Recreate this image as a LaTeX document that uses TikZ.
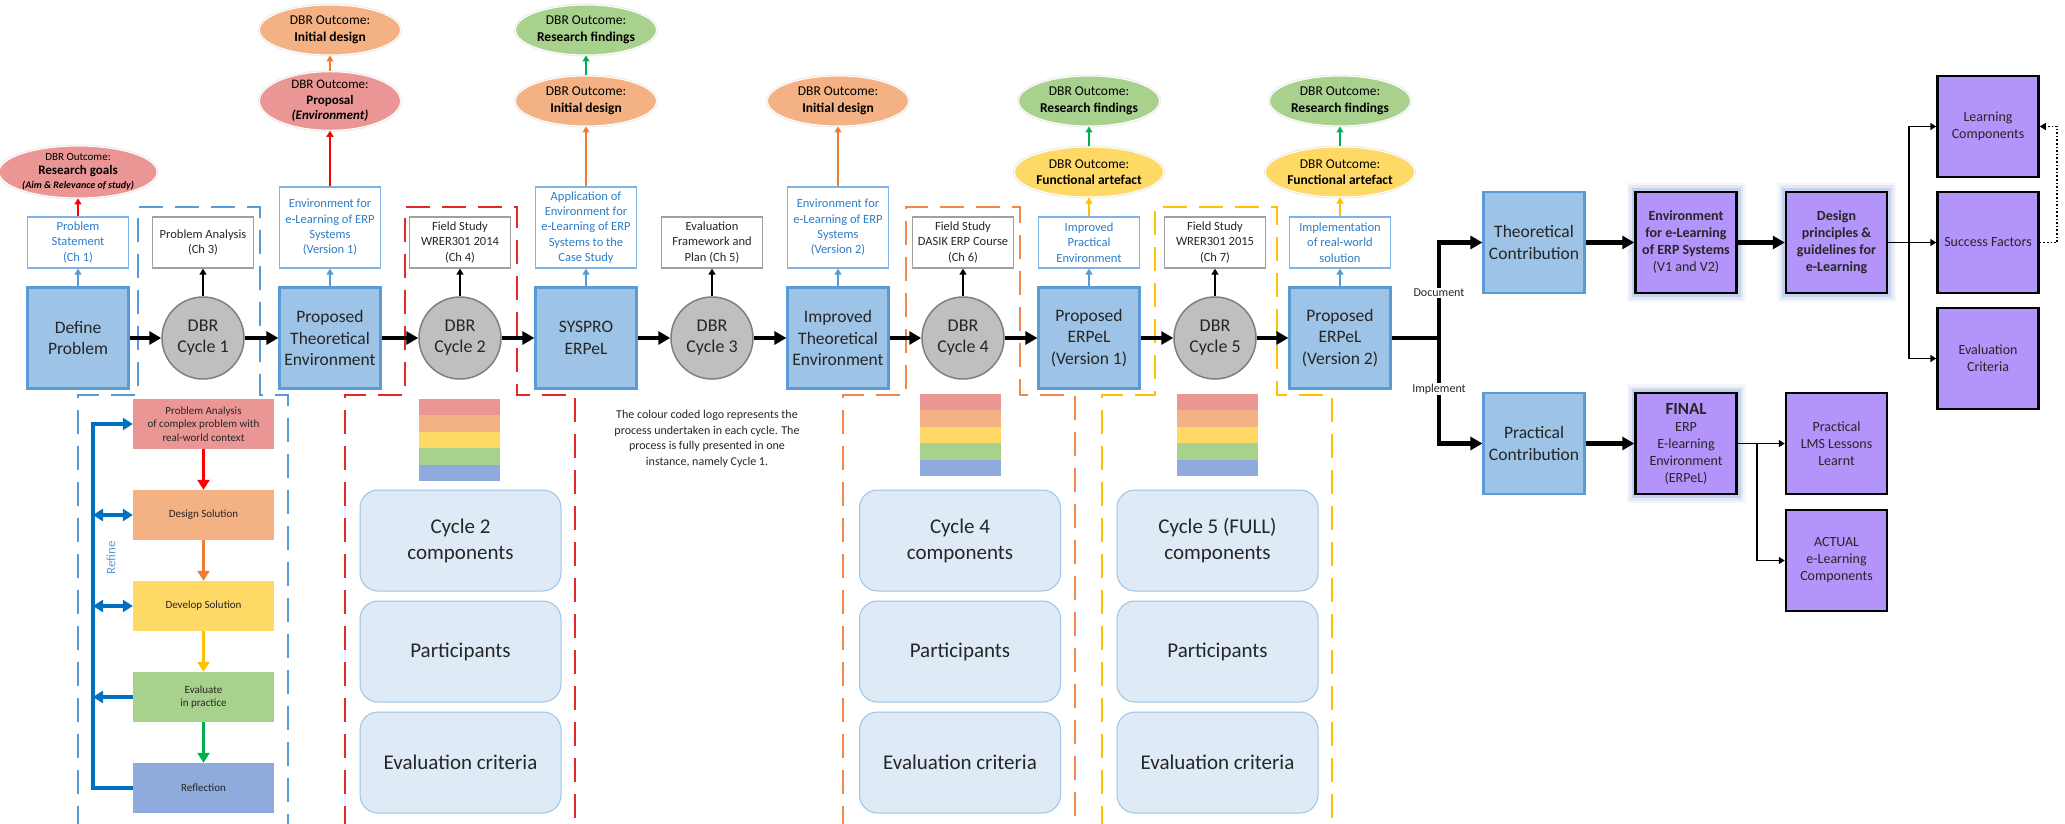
\documentclass[tikz,border=0pt]{standalone}
\usepackage{fontspec}
\setmainfont{Carlito}
\usetikzlibrary{arrows.meta,shapes.geometric}
\definecolor{bfill}{HTML}{9DC3E6}
\definecolor{bbord}{HTML}{5B9BD5}
\definecolor{cfill}{HTML}{BFBFBF}
\definecolor{cbord}{HTML}{7F7F7F}
\definecolor{obord}{HTML}{7FB2E5}
\definecolor{otxt}{HTML}{2E7DC6}
\definecolor{kbord}{HTML}{A0A0A0}
\definecolor{txt}{HTML}{262626}
\definecolor{pinkc}{HTML}{E99694}
\definecolor{orangec}{HTML}{F4B183}
\definecolor{yellowc}{HTML}{FFD966}
\definecolor{greenc}{HTML}{A9D18E}
\definecolor{bluec}{HTML}{8FAADC}
\definecolor{redA}{HTML}{FF0000}
\definecolor{orangeA}{HTML}{ED7D31}
\definecolor{amberA}{HTML}{FFC000}
\definecolor{greenA}{HTML}{00B050}
\definecolor{refblue}{HTML}{0070C0}
\definecolor{refinetxt}{HTML}{5B9BD5}
\definecolor{dblue}{HTML}{5B9BD5}
\definecolor{dred}{HTML}{E02A2A}
\definecolor{dorange}{HTML}{F08A4B}
\definecolor{dyellow}{HTML}{FFC000}
\definecolor{compfill}{HTML}{DEEBF7}
\definecolor{compbord}{HTML}{9DC3E6}
\definecolor{purp}{HTML}{B394FA}
\definecolor{glowc}{HTML}{4472C4}
\newcommand\drawlogo[2]{%
  \fill[pinkc]   (#1,#2) rectangle ++(81,16.4);
  \fill[orangec] (#1,{#2+16.4}) rectangle ++(81,16.4);
  \fill[yellowc] (#1,{#2+32.8}) rectangle ++(81,16.4);
  \fill[greenc]  (#1,{#2+49.2}) rectangle ++(81,16.4);
  \fill[bluec]   (#1,{#2+65.6}) rectangle ++(81,16.4);
}
\tikzset{
  mainbox/.style={rectangle, draw=bbord, fill=bfill, line width=2.2pt, minimum width=101pt, minimum height=101pt, inner sep=1pt, align=center, text=txt, font=\fontsize{17.5}{21.5}\selectfont},
  cyc/.style={circle, draw=cbord, fill=cfill, line width=1.5pt, minimum size=82pt, inner sep=0pt, align=center, text=txt, font=\fontsize{18}{21}\selectfont},
  obox/.style={rectangle, draw=obord, fill=white, line width=1.3pt, minimum width=101pt, minimum height=#1, inner sep=1pt, align=center, text=otxt, font=\fontsize{12.5}{15.3}\selectfont},
  kbox/.style={rectangle, draw=kbord, fill=white, line width=1.3pt, minimum width=101pt, minimum height=51pt, inner sep=1pt, align=center, text=txt, font=\fontsize{12.5}{15.3}\selectfont},
  outc/.style={ellipse, fill=#1, draw=white, line width=1pt, minimum width=141pt, minimum height=50pt, inner sep=0pt, align=center, text=black, font=\fontsize{13.5}{16.5}\selectfont, preaction={draw=black!15, line width=3pt, draw opacity=0.5}},
  pbox/.style={rectangle, fill=#1, minimum width=141pt, minimum height=50pt, inner sep=1pt, align=center, text=txt, font=\fontsize{11}{13.5}\selectfont},
  comp/.style={rectangle, rounded corners=18pt, fill=compfill, draw=compbord, line width=1pt, minimum width=201pt, minimum height=101pt, align=center, text=txt, font=\fontsize{21}{26}\selectfont},
  pur/.style={rectangle, fill=purp, draw=black, line width=2.5pt, minimum width=101pt, minimum height=101pt, inner sep=1pt, align=center, text=txt, font=\fontsize{14}{17}\selectfont},
  purglow/.style={pur, preaction={draw=glowc, line width=18pt, draw opacity=0.06}, preaction={draw=glowc, line width=13pt, draw opacity=0.10}, preaction={draw=glowc, line width=8pt, draw opacity=0.18}},
  marrow/.style={line width=4.5pt, -{Triangle[length=12pt,width=13pt]}},
  mline/.style={line width=4.5pt},
  tarrow/.style={line width=1.6pt, -{Triangle[length=6pt,width=7pt]}},
  parrow/.style={line width=3.2pt, -{Triangle[length=10pt,width=12pt]}},
  refl/.style={line width=3.2pt, draw=refblue},
  cdash/.style={draw=#1, line width=1.5pt, dash pattern=on 24pt off 12pt},
  lbl/.style={fill=white, inner sep=1pt, font=\fontsize{12}{14}\selectfont, text=txt},
}
\begin{document}
\begin{tikzpicture}[x=1pt,y=-1pt]
\useasboundingbox (0,0) rectangle (2065,824);
\fill[white] (0,0) rectangle (2065,824);

% dashed cycle outlines
\draw[cdash=dblue] (78,830) -- (78,395) -- (138,395) -- (138,207) -- (260,207) -- (260,395) -- (288,395) -- (288,830);
\draw[cdash=dred] (345,830) -- (345,395) -- (405,395) -- (405,207) -- (517,207) -- (517,395) -- (575,395) -- (575,830);
\draw[cdash=dorange] (843,830) -- (843,395) -- (906,395) -- (906,207) -- (1020,207) -- (1020,395) -- (1075,395) -- (1075,830);
\draw[cdash=dyellow] (1102,830) -- (1102,395) -- (1155,395) -- (1155,207) -- (1277,207) -- (1277,395) -- (1332,395) -- (1332,830);

% main row
\node[mainbox] (dp) at (78,338) {Define\\Problem};
\node[cyc] (c1) at (203,338) {DBR\\Cycle 1};
\node[mainbox] (pte) at (330,338) {Proposed\\Theoretical\\Environment};
\node[cyc] (c2) at (460,338) {DBR\\Cycle 2};
\node[mainbox] (sys) at (586,338) {SYSPRO\\ERPeL};
\node[cyc] (c3) at (712,338) {DBR\\Cycle 3};
\node[mainbox] (ite) at (838,338) {Improved\\Theoretical\\Environment};
\node[cyc] (c4) at (963,338) {DBR\\Cycle 4};
\node[mainbox] (pe1) at (1089,338) {Proposed\\ERPeL\\(Version 1)};
\node[cyc] (c5) at (1215,338) {DBR\\Cycle 5};
\node[mainbox] (pe2) at (1340,338) {Proposed\\ERPeL\\(Version 2)};

\draw[marrow] (dp.east) -- (c1.west);
\draw[marrow] (c1.east) -- (pte.west);
\draw[marrow] (pte.east) -- (c2.west);
\draw[marrow] (c2.east) -- (sys.west);
\draw[marrow] (sys.east) -- (c3.west);
\draw[marrow] (c3.east) -- (ite.west);
\draw[marrow] (ite.east) -- (c4.west);
\draw[marrow] (c4.east) -- (pe1.west);
\draw[marrow] (pe1.east) -- (c5.west);
\draw[marrow] (c5.east) -- (pe2.west);

% boxes above
\node[obox=51pt] (ps) at (78,242.5) {Problem\\Statement\\(Ch 1)};
\node[kbox] (pa3) at (203,242.5) {Problem Analysis\\(Ch 3)};
\node[obox=81pt] (env1) at (330,227.5) {Environment for\\e-Learning of ERP\\Systems\\(Version 1)};
\node[kbox] (fs4) at (460,242.5) {Field Study\\WRER301 2014\\(Ch 4)};
\node[obox=81pt] (app) at (586,227.5) {Application of\\Environment for\\e-Learning of ERP\\Systems to the\\Case Study};
\node[kbox] (ef5) at (712,242.5) {Evaluation\\Framework and\\Plan (Ch 5)};
\node[obox=81pt] (env2) at (838,227.5) {Environment for\\e-Learning of ERP\\Systems\\(Version 2)};
\node[kbox] (fs6) at (963,242.5) {Field Study\\DASIK ERP Course\\(Ch 6)};
\node[obox=51pt] (ipe) at (1089,242.5) {Improved\\Practical\\Environment};
\node[kbox] (fs7) at (1215,242.5) {Field Study\\WRER301 2015\\(Ch 7)};
\node[obox=51pt] (imp) at (1340,242.5) {Implementation\\of real-world\\solution};

\draw[tarrow, draw=bbord] (dp.north) -- (ps.south);
\draw[tarrow, draw=bbord] (pte.north) -- (env1.south);
\draw[tarrow, draw=bbord] (sys.north) -- (app.south);
\draw[tarrow, draw=bbord] (ite.north) -- (env2.south);
\draw[tarrow, draw=bbord] (pe1.north) -- (ipe.south);
\draw[tarrow, draw=bbord] (pe2.north) -- (imp.south);
\draw[tarrow] (c1.north) -- (pa3.south);
\draw[tarrow] (c2.north) -- (fs4.south);
\draw[tarrow] (c3.north) -- (ef5.south);
\draw[tarrow] (c4.north) -- (fs6.south);
\draw[tarrow] (c5.north) -- (fs7.south);

% outcome ellipses
\node[outc=pinkc, font=\fontsize{11}{14}\selectfont] (rg) at (78,172) {DBR Outcome:\\{\fontsize{13}{14}\selectfont\textbf{Research goals}}\\{\fontsize{10}{13}\selectfont\textbf{\textit{(Aim \& Relevance of study)}}}};
\node[outc=pinkc, font=\fontsize{13}{15.5}\selectfont] (prop) at (330,101) {DBR Outcome:\\\textbf{Proposal}\\\textbf{\textit{(Environment)}}};
\node[outc=orangec] (id1) at (330,30) {DBR Outcome:\\\textbf{Initial design}};
\node[outc=orangec] (id2) at (586,101) {DBR Outcome:\\\textbf{Initial design}};
\node[outc=greenc] (rf2) at (586,30) {DBR Outcome:\\\textbf{Research findings}};
\node[outc=orangec] (id3) at (838,101) {DBR Outcome:\\\textbf{Initial design}};
\node[outc=yellowc] (fa4) at (1089,172) {DBR Outcome:\\\textbf{Functional artefact}};
\node[outc=greenc] (rf4) at (1089,101) {DBR Outcome:\\\textbf{Research findings}};
\node[outc=yellowc] (fa5) at (1340,172) {DBR Outcome:\\\textbf{Functional artefact}};
\node[outc=greenc] (rf5) at (1340,101) {DBR Outcome:\\\textbf{Research findings}};

\draw[tarrow, draw=redA] (ps.north) -- (rg.south);
\draw[tarrow, draw=redA] (env1.north) -- (prop.south);
\draw[tarrow, draw=orangeA] (prop.north) -- (id1.south);
\draw[tarrow, draw=orangeA] (app.north) -- (id2.south);
\draw[tarrow, draw=greenA] (id2.north) -- (rf2.south);
\draw[tarrow, draw=orangeA] (env2.north) -- (id3.south);
\draw[tarrow, draw=amberA] (ipe.north) -- (fa4.south);
\draw[tarrow, draw=greenA] (fa4.north) -- (rf4.south);
\draw[tarrow, draw=amberA] (imp.north) -- (fa5.south);
\draw[tarrow, draw=greenA] (fa5.north) -- (rf5.south);

% cycle 1 process
\node[pbox=pinkc] (pa) at (203.5,424) {Problem Analysis\\of complex problem with\\real-world context};
\node[pbox=orangec] (ds) at (203.5,515) {Design Solution};
\node[pbox=yellowc] (dv) at (203.5,606) {Develop Solution};
\node[pbox=greenc] (ev) at (203.5,697) {Evaluate\\in practice};
\node[pbox=bluec] (rfl) at (203.5,788) {Reflection};
\draw[parrow, draw=redA] (pa.south) -- (ds.north);
\draw[parrow, draw=orangeA] (ds.south) -- (dv.north);
\draw[parrow, draw=amberA] (dv.south) -- (ev.north);
\draw[parrow, draw=greenA] (ev.south) -- (rfl.north);
\coordinate (r1) at (93,424);
\coordinate (r2) at (93,515);
\coordinate (r3) at (93,606);
\coordinate (r4) at (93,697);
\coordinate (r5) at (93,788);
\draw[refl, line join=miter, -{Triangle[length=10pt,width=12pt]}] (rfl.west) -- (r5) -- (r1) -- (pa.west);
\draw[refl, {Triangle[length=10pt,width=12pt]}-{Triangle[length=10pt,width=12pt]}] (r2) -- (ds.west);
\draw[refl, {Triangle[length=10pt,width=12pt]}-{Triangle[length=10pt,width=12pt]}] (r3) -- (dv.west);
\draw[refl, -{Triangle[length=10pt,width=12pt]}] (ev.west) -- (r4);
\node[rotate=90, text=refinetxt, font=\fontsize{13}{15}\selectfont] (refine) at (111,558) {Refine};

% logos
\drawlogo{419}{399}
\drawlogo{920}{394}
\drawlogo{1177}{394}

% components
\node[comp] (c2a) at (460.5,540.5) {Cycle 2\\components};
\node[comp] (c2b) at (460.5,651.5) {Participants};
\node[comp] (c2c) at (460.5,762.5) {Evaluation criteria};
\node[comp] (c4a) at (960,540.5) {Cycle 4\\components};
\node[comp] (c4b) at (960,651.5) {Participants};
\node[comp] (c4c) at (960,762.5) {Evaluation criteria};
\node[comp] (c5a) at (1217.5,540.5) {Cycle 5 (FULL)\\components};
\node[comp] (c5b) at (1217.5,651.5) {Participants};
\node[comp] (c5c) at (1217.5,762.5) {Evaluation criteria};

\node[align=center, text=txt, font=\fontsize{12}{15.5}\selectfont] (note) at (707,439) {The colour coded logo represents the\\process undertaken in each cycle. The\\process is fully presented in one\\instance, namely Cycle 1.};

% right side
\node[mainbox] (tc) at (1534,242.5) {Theoretical\\Contribution};
\node[mainbox] (pc) at (1534,443.5) {Practical\\Contribution};
\node[purglow] (envp) at (1686,242.5) {\textbf{Environment}\\\textbf{for e-Learning}\\\textbf{of ERP Systems}\\(V1 and V2)};
\node[purglow] (dsg) at (1836.5,242.5) {\textbf{Design}\\\textbf{principles \&}\\\textbf{guidelines for}\\\textbf{e-Learning}};
\node[purglow] (fin) at (1686,443.5) {{\fontsize{17}{19}\selectfont\textbf{FINAL}}\\ERP\\E-learning\\Environment\\(ERPeL)};
\node[pur] (lms) at (1836.5,443.5) {Practical\\LMS Lessons\\Learnt};
\node[pur] (act) at (1836.5,560.5) {ACTUAL\\e-Learning\\Components};
\node[pur] (lc) at (1988,126.5) {Learning\\Components};
\node[pur] (sf) at (1988,242.5) {Success Factors};
\node[pur] (ec) at (1988,358.5) {Evaluation\\Criteria};

\coordinate (br) at (1439,338);
\draw[mline] (pe2.east) -- (br);
\draw[marrow] (br) |- (tc.west);
\draw[marrow] (br) |- (pc.west);
\node[lbl] (doc) at (1439,293) {Document};
\node[lbl] (impl) at (1439,389) {Implement};
\draw[marrow] (tc.east) -- (envp.west);
\draw[marrow] (envp.east) -- (dsg.west);
\draw[marrow] (pc.east) -- (fin.west);

\coordinate (b2) at (1909,242.5);
\draw[tarrow] (dsg.east) -- (sf.west);
\draw[tarrow] (b2) |- (lc.west);
\draw[tarrow] (b2) |- (ec.west);
\coordinate (d1) at (2057,242.5);
\draw[line width=1.6pt, dotted, -{Triangle[length=6pt,width=7pt]}] (sf.east) -- (d1) |- (lc.east);

\coordinate (b3) at (1757,443.5);
\draw[tarrow] (fin.east) -- (lms.west);
\draw[tarrow] (b3) |- (act.west);
\end{tikzpicture}
\end{document}
